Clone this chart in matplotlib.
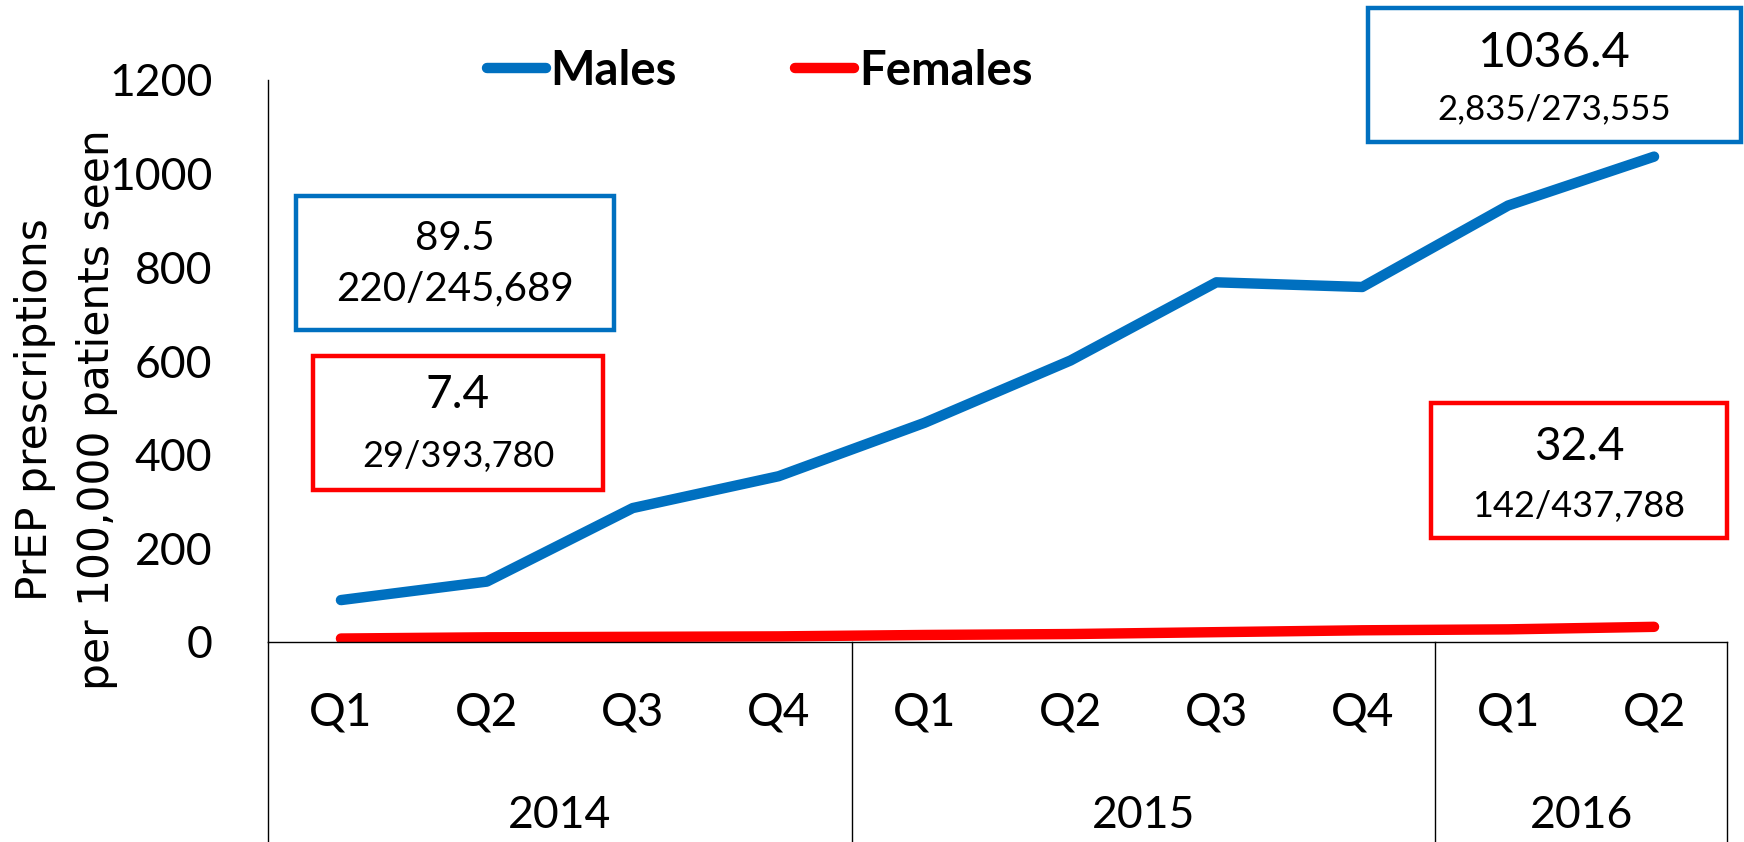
import matplotlib
matplotlib.use("Agg")
import matplotlib.pyplot as plt
from matplotlib.patches import Rectangle
import matplotlib.transforms as mtransforms

# data
quarters = ["Q1", "Q2", "Q3", "Q4", "Q1", "Q2", "Q3", "Q4", "Q1", "Q2"]
years = ["2014", "2015", "2016"]
quarters_per_year = [4, 4, 2]
males = [89.5, 129, 286, 354, 468, 601, 768, 758, 932, 1036.4]
females = [7.4, 10, 11, 12, 15, 17, 21, 25, 27, 32.4]

blue = "#0070C0"
red = "#FF0000"
W, H = 1744, 842

plt.rcParams["font.family"] = ["Lato", "DejaVu Sans"]

fig = plt.figure(figsize=(W / 100, H / 100), dpi=100)
ax = fig.add_axes([268 / W, 1 - 642 / H, (1727 - 268) / W, (642 - 80) / H])

x = list(range(len(quarters)))
ax.plot(x, males, color=blue, lw=7.5, solid_capstyle="round", label="Males")
ax.plot(x, females, color=red, lw=7.5, solid_capstyle="round", label="Females")

ax.set_xlim(-0.5, len(quarters) - 0.5)
ax.set_ylim(0, 1200)
ax.set_yticks(range(0, 1201, 200))
ax.tick_params(axis="y", length=0, pad=40, labelsize=32)
ax.set_xticks([])
for s in ["top", "right"]:
    ax.spines[s].set_visible(False)
ax.spines["left"].set_linewidth(1.0)
ax.spines["bottom"].set_linewidth(1.0)

# category axis (quarters / years)
trans = mtransforms.blended_transform_factory(ax.transData, ax.transAxes)
bottom = -200 / 562
for i, q in enumerate(quarters):
    ax.text(i, -0.125, q, transform=trans, ha="center", va="center", fontsize=33)
start = 0
seps = [-0.5]
for yr, n in zip(years, quarters_per_year):
    ax.text(start + (n - 1) / 2, -0.308, yr, transform=trans, ha="center",
            va="center", fontsize=32)
    start += n
    seps.append(start - 0.5)
for s in seps:
    ax.plot([s, s], [0, bottom], transform=trans, color="black", lw=1.0,
            clip_on=False)

fig.text(66 / W, 1 - 410 / H, "PrEP prescriptions\nper 100,000 patients seen",
         rotation=90, ha="center", va="center", fontsize=30.5,
         family="DejaVu Sans", linespacing=1.6)

fig.legend(loc="center left", bbox_to_anchor=(487 / W, 1 - 71 / H), ncol=2,
           frameon=False, borderpad=0, borderaxespad=0, handlelength=1.25,
           handletextpad=0.1, columnspacing=2.5,
           prop={"family": "Lato", "weight": "bold", "size": 34})


def box(x0, y0, x1, y1, color, lines):
    fig.patches.append(Rectangle((x0 / W, 1 - y1 / H), (x1 - x0) / W, (y1 - y0) / H,
                                 transform=fig.transFigure, fill=False,
                                 edgecolor=color, lw=3.2))
    for txt, yy, size in lines:
        fig.text((x0 + x1) / 2 / W, 1 - yy / H, txt, ha="center", va="center",
                 fontsize=size)


box(296, 196, 614, 330, blue, [("89.5", 239, 29), ("220/245,689", 289, 29)])
box(313, 356, 603, 490, red, [("7.4", 395, 33), ("29/393,780", 456, 26)])
box(1368, 8, 1741, 142, blue, [("1036.4", 53, 35), ("2,835/273,555", 109, 25)])
box(1431, 403, 1727, 538, red, [("32.4", 447, 33), ("142/437,788", 506, 26)])

fig.savefig("out.png", dpi=100)
